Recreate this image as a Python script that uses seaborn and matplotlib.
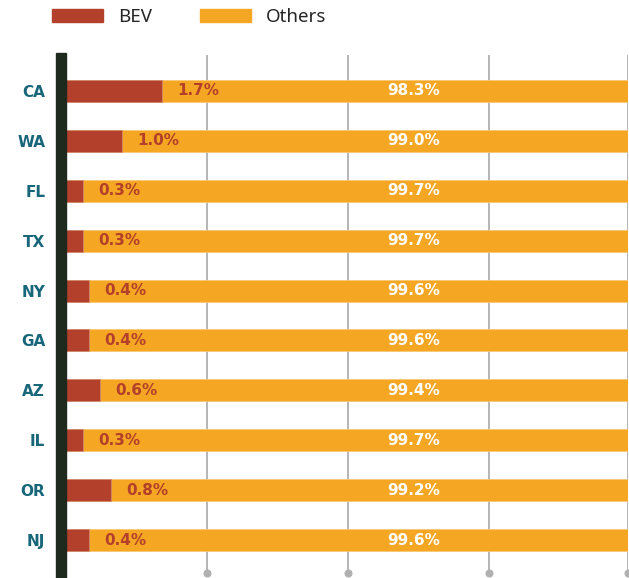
import matplotlib.pyplot as plt
import seaborn as sns
import pandas as pd
from matplotlib.patches import Patch, Rectangle

# data (share of new vehicle registrations, %)
states = ["CA", "WA", "FL", "TX", "NY", "GA", "AZ", "IL", "OR", "NJ"]
bev = [1.7, 1.0, 0.3, 0.3, 0.4, 0.4, 0.6, 0.3, 0.8, 0.4]
others = [98.3, 99.0, 99.7, 99.7, 99.6, 99.6, 99.4, 99.7, 99.2, 99.6]

red = "#b3402a"
orange = "#f5a623"
teal = "#17667a"
bold_font = "DejaVu Sans"

df = pd.DataFrame({"state": states, "BEV": bev, "Others": others})
df["total"] = df["BEV"] + df["Others"]

sns.set_style("white")
plt.rcParams["font.family"] = ["Noto Sans", "DejaVu Sans"]

fig = plt.figure(figsize=(6.29, 5.78), dpi=100)
ax = fig.add_axes([66 / 629, 1 - 573 / 578, 562 / 629, 518 / 578])

# stacked look: total bar behind, BEV bar in front
sns.barplot(data=df, x="total", y="state", color=orange, width=0.44,
            saturation=1, orient="h", ax=ax, zorder=2, edgecolor="#f8c878", linewidth=0.6)
sns.barplot(data=df, x="BEV", y="state", color=red, width=0.44,
            saturation=1, orient="h", ax=ax, zorder=3, edgecolor="#d08a70", linewidth=0.6)

ax.set_xlim(0, 9.97)
ax.set_ylim(9.66, -0.72)
ax.set_xlabel("")
ax.set_ylabel("")

# grid lines with dots at the bottom
ax.set_xticks([2.5, 5, 7.5, 9.97])
ax.set_xticklabels([])
ax.grid(axis="x", color="#b0b0b0", linewidth=1.3, zorder=0)
ax.set_axisbelow(True)
ax.tick_params(axis="x", length=0, pad=0)
for t in ax.xaxis.get_major_ticks():
    t.tick1line.set_marker("o")
    t.tick1line.set_markersize(5)
    t.tick1line.set_markerfacecolor("#b0b0b0")
    t.tick1line.set_markeredgecolor("#b0b0b0")
    t.tick1line.set_clip_on(False)
    t.tick1line.set_visible(True)

ax.tick_params(axis="y", length=0, pad=15)
for lab in ax.get_yticklabels():
    lab.set_color(teal)
    lab.set_fontweight("bold")
    lab.set_fontfamily(bold_font)
    lab.set_fontsize(11)

for s in ax.spines.values():
    s.set_visible(False)

# thick dark bar on the left
fig.patches.append(Rectangle((56 / 629, 0), 10 / 629, 1 - 53 / 578,
                             transform=fig.transFigure, color="#1f2a1f", zorder=5))

for i, (b, o) in enumerate(zip(bev, others)):
    ax.annotate(f"{b:.1f}%", (b, i), xytext=(11, 0), textcoords="offset points",
                ha="left", va="center", color=red, fontsize=11,
                fontweight="bold", family=bold_font, zorder=6)
    ax.text(6.17, i, f"{o:.1f}%", ha="center", va="center", color="white",
            fontsize=11, fontweight="bold", family=bold_font, zorder=6)

handles = [Patch(color=red, label="BEV"), Patch(color=orange, label="Others")]
fig.legend(handles=handles, loc="upper left", bbox_to_anchor=(52 / 629, 1 - 8 / 578),
           ncol=2, frameon=False, fontsize=13.5, handlelength=2.7, handleheight=0.75,
           handletextpad=0.8, columnspacing=2.6, borderpad=0, borderaxespad=0)

fig.savefig("out.png", dpi=100)
